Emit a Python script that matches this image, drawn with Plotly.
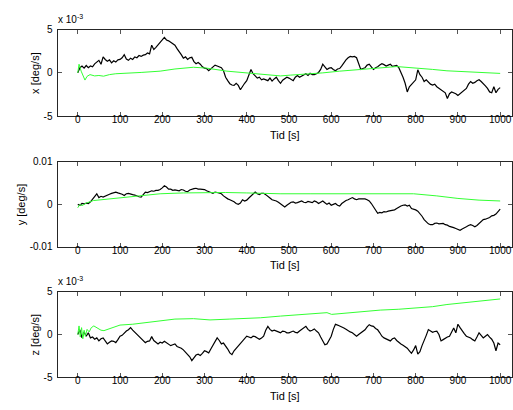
import plotly.graph_objects as go

# Sample times of the gyro logs [s]
t_black = list(range(0, 1001, 5))

# ---- x-axis rate, black trace [1e-3 deg/s] ----
x_black = [
    0, 0.6, 0.8, 0.55, 0.85, 0.6, 0.8, 0.7, 1.05, 1.2,
    1.45, 1.0, 1.85, 1.55, 1.35, 1.5, 1.15, 1.4, 1.25, 1.5,
    1.55, 1.75, 2.1, 1.6, 1.45, 1.7, 1.55, 1.85, 1.75, 2.0,
    1.9, 2.05, 2.1, 2.3, 2.2, 3.2, 2.7, 2.95, 3.2, 3.45,
    3.8, 4.1, 3.8, 3.7, 3.5, 3.35, 3.2, 2.8, 2.5, 2.1,
    1.7, 1.85, 1.55, 1.75, 1.8, 1.3, 1.05, 1.2, 1.0, 0.7,
    0.55, 0.5, 0.25, 0.45, 0.7, 0.9, 0.8, 0.65, 0.6, 0.25,
    -0.5, -0.9, -1.25, -1.4, -1.45, -1.2, -1.45, -1.95, -1.5, -1.2,
    -0.9, -0.3, 0.4, -0.1, -0.3, -0.6, -0.5, -0.8, -0.7, -0.85,
    -0.9, -0.6, -0.95, -0.7, -0.5, -0.9, -1.2, -0.85, -0.7, -0.5,
    -0.6, -0.8, -0.9, -0.5, -0.3, -0.5, -0.35, -0.2, -0.1, -0.3,
    -0.05, -0.2, -0.2, -0.1, 0.05, 0.4, 1.0, 0.7, 0.4, 0.55,
    0.6, 0.4, 0.25, 0.45, 0.5, 0.8, 1.2, 1.5, 1.75, 1.9,
    1.85, 1.9, 1.75, 1.0, 0.4, 0.5, 0.6, 0.9, 1.0, 0.7,
    0.4, 0.6, 0.7, 0.9, 1.05, 0.95, 0.8, 0.9, 1.0, 0.75,
    0.8, 0.85, 0.6, 0.1, -0.5, -1.2, -2.2, -1.6, -1.3, -1.1,
    -0.8, 0.35, -0.2, -0.5, -1.0, -0.8, -1.1, -1.3, -1.4, -1.3,
    -1.6, -1.8, -2.0, -2.1, -2.3, -2.95, -2.4, -2.2, -2.3, -2.4,
    -2.6, -2.4, -2.3, -2.1, -1.8, -1.3, -1.0, -1.2, -1.1, -0.9,
    -0.8, -1.0, -1.2, -1.5, -1.8, -2.2, -2.3, -1.6, -2.3, -1.9,
    -1.7,
]
x_green_t = [0, 3, 8, 12, 17, 22, 29, 40, 50, 61, 75, 90, 116, 150, 195, 230, 274, 305, 353, 400,
             440, 480, 503, 540, 580, 620, 668, 710, 755, 800, 840, 874, 920, 960, 1000]
x_green = [0, 1.0, 0.2, -0.3, -0.83, -0.4, -0.2, -0.35, -0.3, -0.38, -0.2, -0.1, -0.05, 0.05, 0.2,
           0.45, 0.65, 0.55, 0.2, 0.0, -0.2, -0.35, -0.26, -0.15, 0.0, 0.2, 0.35, 0.55, 0.73, 0.6,
           0.4, 0.24, 0.15, 0.05, -0.06]

# ---- y-axis rate, black trace [1e-3 deg/s] ----
y_black_m = [
    0, -0.2, 0.2, 0.1, 0.3, 0.2, 0.6, 1.2, 2.0, 2.5,
    1.6, 1.9, 1.7, 2.0, 2.1, 2.4, 2.6, 2.8, 2.9, 2.7,
    2.6, 2.4, 2.1, 2.5, 2.6, 2.4, 2.3, 2.2, 1.9, 1.8,
    1.7, 2.4, 2.9, 2.8, 3.0, 3.2, 3.1, 3.3, 3.3, 3.5,
    3.9, 4.4, 4.1, 3.6, 3.6, 3.3, 3.4, 3.3, 3.2, 3.5,
    3.4, 3.1, 3.0, 3.4, 3.6, 3.7, 3.8, 3.6, 3.6, 3.5,
    3.5, 3.2, 2.9, 2.8, 2.6, 2.9, 2.8, 2.6, 2.5, 2.0,
    1.6, 1.3, 1.1, 0.9, 0.6, 0.2, 0.0, 0.3, 1.1, 0.8,
    1.0, 1.5, 2.0, 2.6, 2.9, 2.5, 2.3, 2.6, 2.6, 2.3,
    2.0, 1.5, 1.1, 1.0, 0.8, 0.5, 0.2, -0.2, -0.6, -0.2,
    0.2, 0.5, 0.6, 0.3, 0.4, 0.7, 0.8, 0.5, 0.4, 0.7,
    0.6, 0.4, 0.8, 0.6, 0.2, 0.5, 0.8, 0.4, 0.0, 0.3,
    -0.2, 0.0, 0.2, -0.2, -0.4, 0.2, 0.6, 0.9, 1.1, 1.4,
    1.6, 1.3, 1.1, 1.3, 1.3, 1.4, 1.3, 1.1, 0.8, 0.2,
    -0.6, -1.4, -2.1, -1.9, -2.0, -1.7, -1.8, -1.6, -1.5, -1.4,
    -1.3, -1.0, -0.6, -0.4, -0.2, -0.1, -0.4, -0.2, -1.0, -1.1,
    -1.3, -1.6, -2.1, -2.8, -3.6, -4.1, -4.6, -4.8, -4.8, -4.5,
    -4.4, -4.6, -4.6, -4.5, -4.8, -4.9, -5.2, -5.3, -5.5, -5.7,
    -5.9, -6.1, -5.8, -5.6, -5.3, -5.0, -4.8, -5.0, -5.3, -5.0,
    -4.6, -4.1, -3.6, -3.5, -3.3, -3.1, -2.7, -2.6, -2.3, -1.8,
    -1.1,
]
y_green_t = [0, 5, 10, 20, 37, 80, 116, 160, 195, 250, 297, 350, 400, 432, 479, 550, 600, 650,
             700, 795, 850, 900, 950, 1000]
y_green_m = [-0.8, 0.0, -0.3, 0.3, 0.9, 1.3, 1.7, 2.0, 2.5, 2.7, 2.8, 2.8, 2.7, 2.6, 2.5, 2.5,
             2.5, 2.4, 2.5, 2.5, 2.0, 1.4, 1.0, 0.8]

# ---- z-axis rate, black trace [1e-3 deg/s] ----
z_black = [
    0, 0.55, -0.4, 0.3, -0.2, 0.2, -0.4, -0.3, -0.55, -0.4,
    -0.75, -0.5, -0.4, -0.7, -1.1, -0.9, -0.75, -0.8, -0.95, -0.6,
    -0.2, -0.1, 0.2, 0.4, 0.55, 0.8, 0.5, 0.25, 0.0, -0.3,
    -0.55, -0.8, -0.95, -0.8, -0.75, -0.25, -0.7, -0.9, -1.1, -0.9,
    -1.0, -0.8, -0.95, -1.1, -1.3, -1.2, -1.1, -1.4, -1.5, -1.6,
    -1.8, -2.1, -2.3, -2.6, -3.05, -2.7, -2.4, -2.3, -2.45, -2.2,
    -1.9, -2.0, -2.15, -1.7, -1.3, -0.9, -0.4, -0.7, -1.1, -1.0,
    -1.3, -1.7, -2.15, -2.35, -1.9, -1.6, -1.3, -1.0, -0.75, -0.5,
    -0.2, -0.3, -0.4, -0.2, -0.25, -0.4, -0.55, -0.4, -0.2, 0.5,
    0.94, 0.6, 0.4, 0.5, 0.35, 0.3, 0.2, 0.4, 0.35, 0.2,
    0.2, 0.35, 0.4, 0.25, 0.2, 0.4, 0.55, 0.8, 0.95, 0.6,
    0.4, 0.5, 0.65, 0.4, 0.2, -0.3, -0.8, -1.2, -1.1, -0.7,
    -0.2, 0.6, 1.2, 1.1, 1.0, 0.9, 0.75, 0.6, 0.4, 0.3,
    0.2, 0.0, -0.2, 0.0, 0.2, 0.4, 0.55, 0.9, 1.15, 1.0,
    0.95, 0.7, 0.55, 0.2, -0.2, -0.4, -0.5, -0.6, -0.75, -0.5,
    -0.4, -0.7, -0.95, -1.1, -1.25, -1.4, -1.6, -1.9, -2.2, -1.8,
    -1.3, -2.3, -2.0, -1.3, -0.75, -0.1, 0.57, 0.4, 0.25, 0.35,
    0.4, 0.0, -0.75, -0.6, -0.4, -0.3, -0.2, 0.3, 0.75, 0.2,
    1.2, 0.8, 0.4, 0.1, -0.2, -0.3, -0.4, -0.6, -0.75, -0.3,
    0.2, -0.1, -0.4, -0.2, 0.0, -0.3, -0.55, -1.0, -1.9, -1.0,
    -1.2,
]
z_green_t = [0, 3, 6, 9, 12, 15, 18, 22, 27, 32, 38, 45, 55, 62, 75, 100, 130, 160, 195, 230, 274,
             313, 360, 432, 480, 520, 558, 590, 601, 650, 716, 760, 800, 840, 874, 920, 960, 1000]
z_green = [0, 1.0, -0.3, 0.8, -0.5, 0.5, -0.2, 0.6, 0.3, 0.8, 1.0, 0.8, 0.5, 0.45, 0.7, 1.1, 1.2,
           1.4, 1.6, 1.8, 1.85, 1.7, 1.8, 1.95, 2.15, 2.3, 2.5, 2.55, 2.35, 2.6, 2.85, 2.95, 3.1,
           3.25, 3.5, 3.75, 4.0, 4.15]

x_ticks = [0, 100, 200, 300, 400, 500, 600, 700, 800, 900, 1000]

W, H = 513, 410
FONT = "Liberation Sans, Arial, sans-serif"
AX_COLOR = "#262626"
BLACK = "#000000"
GREEN = "#33ff33"

# axes boxes in pixels (left, right, top, bottom)
left_px, right_px = 57.5, 512
rows = [(24.3, 113.5), (160.7, 248), (294.3, 382.5)]

# y panel is in deg/s, the others in 1e-3 deg/s with an exponent label
series = [
    (t_black, x_black, x_green_t, x_green),
    (t_black, [v / 1000 for v in y_black_m], y_green_t, [v / 1000 for v in y_green_m]),
    (t_black, z_black, z_green_t, z_green),
]
y_ranges = [[-5, 5], [-0.01, 0.01], [-5, 5]]
y_tickvals = [[-5, 0, 5], [-0.01, 0, 0.01], [-5, 0, 5]]
y_ticktext = [["-5", "0", "5"], ["-0.01", "0", "0.01"], ["-5", "0", "5"]]
y_titles = ["x [deg/s]", "y [deg/s]", "z [deg/s]"]
y_title_x = [35, 21, 35]

fig = go.Figure()

for i, (bt, bv, gt, gv) in enumerate(series):
    n = "" if i == 0 else str(i + 1)
    fig.add_trace(go.Scatter(x=bt, y=bv, mode="lines", line=dict(color=BLACK, width=1.2),
                             xaxis="x" + n, yaxis="y" + n, showlegend=False))
    fig.add_trace(go.Scatter(x=gt, y=gv, mode="lines", line=dict(color=GREEN, width=1),
                             xaxis="x" + n, yaxis="y" + n, showlegend=False))

    top, bot = rows[i]
    common = dict(showline=True, linecolor=AX_COLOR, linewidth=1, mirror="ticks",
                  ticks="inside", ticklen=4, tickcolor="#555555", showgrid=False,
                  zeroline=False, tickfont=dict(family=FONT, size=10, color="#000"))
    layout_x = dict(domain=[left_px / W, right_px / W], range=[-48, 1028],
                    tickvals=x_ticks, anchor="y" + n, ticklabelstandoff=-6, **common)
    layout_y = dict(domain=[1 - bot / H, 1 - top / H], range=y_ranges[i],
                    tickvals=y_tickvals[i], ticktext=y_ticktext[i], anchor="x" + n,
                    ticklabelstandoff=2, **common)
    fig.update_layout(**{"xaxis" + n: layout_x, "yaxis" + n: layout_y})

    # axis titles
    fig.add_annotation(x=(left_px + right_px) / 2 / W, y=1 - (bot + 19) / H, xref="paper",
                       yref="paper", text="Tid [s]", showarrow=False, yanchor="middle",
                       font=dict(family=FONT, size=11, color="#000"))
    fig.add_annotation(x=y_title_x[i] / W, y=1 - (top + bot) / 2 / H, xref="paper",
                       yref="paper", text=y_titles[i], showarrow=False, textangle=-90,
                       xanchor="center", yanchor="middle",
                       font=dict(family=FONT, size=11, color="#000"))

# exponent labels
for i in (0, 2):
    top, _ = rows[i]
    fig.add_annotation(x=56 / W, y=1 - (top - 3) / H, xref="paper", yref="paper",
                       text="x 10<sup>-3</sup>", showarrow=False, xanchor="left",
                       yanchor="bottom", font=dict(family=FONT, size=10, color="#000"))

fig.update_layout(width=W, height=H, margin=dict(l=0, r=0, t=0, b=0),
                  paper_bgcolor="white", plot_bgcolor="white")

fig.write_html("out.html")
